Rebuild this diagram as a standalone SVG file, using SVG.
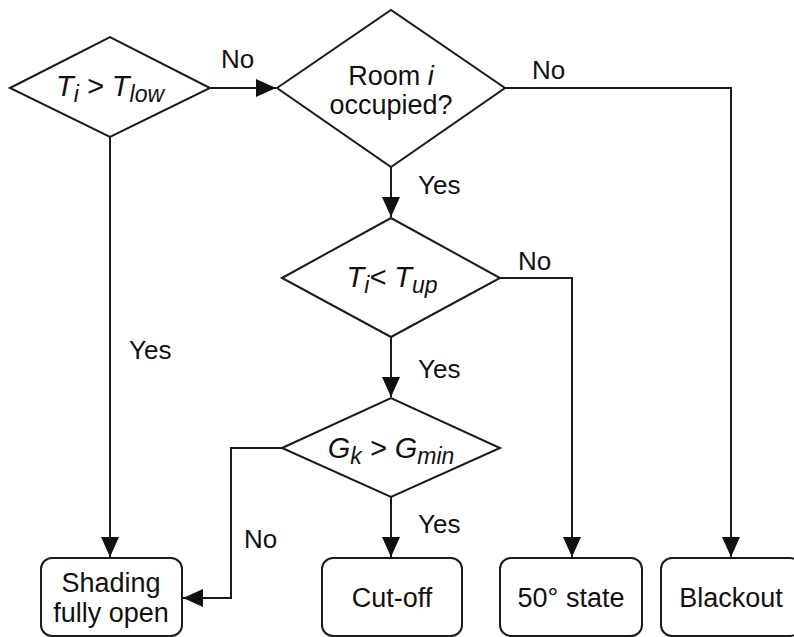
<svg xmlns="http://www.w3.org/2000/svg" width="794" height="637" viewBox="0 0 794 637">
<style>
.shape{fill:#fff;stroke:#1a1a1a;stroke-width:2}
.edge{fill:none;stroke:#1a1a1a;stroke-width:2}
.t{font-family:"Liberation Sans",Arial,sans-serif;font-size:27px;fill:#111;text-anchor:middle}
.lbl{font-family:"Liberation Sans",Arial,sans-serif;font-size:26px;fill:#111}
.m{font-family:"Liberation Sans",Arial,sans-serif;font-size:29px;fill:#111;text-anchor:middle;font-style:italic}
.s{font-size:23px}
</style>
<defs>
<marker id="arr" markerUnits="userSpaceOnUse" markerWidth="20" markerHeight="18" refX="20" refY="9" orient="auto">
<path d="M0,0 L20,9 L0,18 z" fill="#111"/>
</marker>
</defs>
<rect width="794" height="637" fill="#fff"/>
<g id="connectors">
<path class="edge" d="M210,88 H276" marker-end="url(#arr)"/>
<path class="edge" d="M505,88 H731 V557" marker-end="url(#arr)"/>
<path class="edge" d="M391,167 V217" marker-end="url(#arr)"/>
<path class="edge" d="M110,137 V557" marker-end="url(#arr)"/>
<path class="edge" d="M500,278 H572 V557" marker-end="url(#arr)"/>
<path class="edge" d="M391,337 V397" marker-end="url(#arr)"/>
<path class="edge" d="M282,448 H231 V598 H183" marker-end="url(#arr)"/>
<path class="edge" d="M391,497 V557" marker-end="url(#arr)"/>
<text class="lbl" x="221" y="68">No</text>
<text class="lbl" x="532" y="79">No</text>
<text class="lbl" x="418" y="194">Yes</text>
<text class="lbl" x="518" y="270">No</text>
<text class="lbl" x="418" y="378">Yes</text>
<text class="lbl" x="129" y="359">Yes</text>
<text class="lbl" x="244" y="548">No</text>
<text class="lbl" x="418" y="533">Yes</text>
</g>
<g id="d1">
<polygon class="shape" points="10,88 110,37 210,88 110,137"/>
<text class="m" x="110" y="96">T<tspan class="s" dy="6">i</tspan><tspan dy="-6"> &gt; T</tspan><tspan class="s" dy="6">low</tspan></text>
</g>
<g id="d2">
<polygon class="shape" points="277,88 391,10 505,88 391,167"/>
<text class="t" x="391" y="85">Room <tspan font-style="italic">i</tspan></text>
<text class="t" x="391" y="114">occupied?</text>
</g>
<g id="d3">
<polygon class="shape" points="282,278 391,218 500,278 391,337"/>
<text class="m" x="392" y="287">T<tspan class="s" dy="6">i</tspan><tspan dy="-6">&lt; T</tspan><tspan class="s" dy="6">up</tspan></text>
</g>
<g id="d4">
<polygon class="shape" points="282,448 391,398 500,448 391,497"/>
<text class="m" x="391" y="458">G<tspan class="s" dy="6">k</tspan><tspan dy="-6"> &gt; G</tspan><tspan class="s" dy="6">min</tspan></text>
</g>
<g id="b1">
<rect class="shape" x="41" y="558" width="141" height="78" rx="11"/>
<text class="t" x="111" y="592">Shading</text>
<text class="t" x="111" y="622">fully open</text>
</g>
<g id="b2">
<rect class="shape" x="322" y="558" width="140" height="78" rx="11"/>
<text class="t" x="392" y="607">Cut-off</text>
</g>
<g id="b3">
<rect class="shape" x="500" y="558" width="142" height="78" rx="11"/>
<text class="t" x="571" y="607">50° state</text>
</g>
<g id="b4">
<rect class="shape" x="661" y="558" width="140" height="78" rx="11"/>
<text class="t" x="731" y="607">Blackout</text>
</g>
</svg>
